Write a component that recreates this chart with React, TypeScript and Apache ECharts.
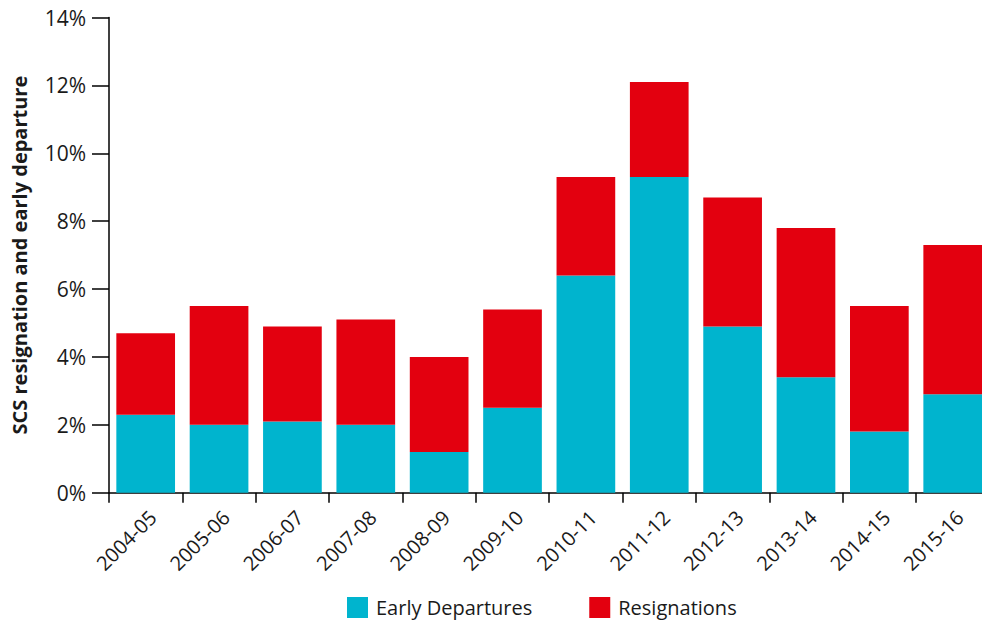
import React, { useEffect, useRef } from "react";
import * as echarts from "echarts";

const categories = ["2004-05", "2005-06", "2006-07", "2007-08", "2008-09", "2009-10", "2010-11", "2011-12", "2012-13", "2013-14", "2014-15", "2015-16"];
const earlyDepartures = [2.3, 2.0, 2.1, 2.0, 1.2, 2.5, 6.4, 9.3, 4.9, 3.4, 1.8, 2.9];
const resignations = [2.4, 3.5, 2.8, 3.1, 2.8, 2.9, 2.9, 2.8, 3.8, 4.4, 3.7, 4.4];
const yTicks = [0, 2, 4, 6, 8, 10, 12, 14];

const FONT = "'Open Sans', 'Noto Sans', sans-serif";

export default function App() {
  const ref = useRef<HTMLDivElement>(null);
  useEffect(() => {
    if (!ref.current) return;
    const chart = echarts.init(ref.current, undefined, { renderer: "svg" });
    chart.setOption({
      animation: false,
      textStyle: { fontFamily: FONT },
      grid: { left: 109, right: -7.4, top: 17.5, bottom: 127.3, containLabel: false, outerBoundsMode: "none" },
      legend: {
        top: 597,
        left: 347,
        padding: 0,
        itemWidth: 21,
        itemHeight: 21,
        itemGap: 57,
        icon: "rect",
        textStyle: { fontSize: 20, lineHeight: 20, color: "#1a1a1a", fontFamily: FONT, padding: [0, 0, 0, 3] },
        data: ["Early Departures", "Resignations"],
      },
      xAxis: {
        type: "category",
        data: categories,
        axisLine: { lineStyle: { color: "#000", width: 1.5 } },
        axisTick: { show: true, length: 10, lineStyle: { color: "#000", width: 1.5 } },
        axisLabel: { rotate: 45, fontSize: 20, color: "#1a1a1a", margin: 14, verticalAlign: "top", fontFamily: FONT },
      },
      yAxis: {
        type: "value",
        min: yTicks[0],
        max: yTicks[yTicks.length - 1],
        interval: 2,
        name: "SCS resignation and early departure",
        nameLocation: "middle",
        nameGap: 80,
        nameTextStyle: { fontSize: 20, fontWeight: "bold", color: "#1a1a1a", fontFamily: FONT },
        axisLine: { show: true, lineStyle: { color: "#000", width: 1.5 } },
        axisTick: { show: true, length: 17, lineStyle: { color: "#000", width: 1.5 } },
        splitLine: { show: false },
        axisLabel: { formatter: "{value}%", fontSize: 21, color: "#1a1a1a", margin: 23, fontFamily: FONT },
      },
      series: [
        {
          name: "Early Departures",
          type: "bar",
          stack: "total",
          data: earlyDepartures,
          barCategoryGap: "20%",
          itemStyle: { color: "#00b4ce" },
        },
        {
          name: "Resignations",
          type: "bar",
          stack: "total",
          data: resignations,
          barCategoryGap: "20%",
          itemStyle: { color: "#e3000f" },
        },
      ],
    });
    return () => chart.dispose();
  }, []);
  return <div ref={ref} style={{ width: 982, height: 620, position: "absolute", left: 0, top: 0 }} />;
}
